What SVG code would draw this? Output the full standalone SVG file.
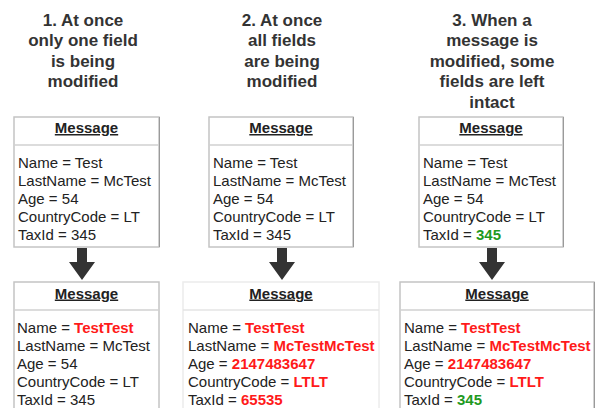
<svg xmlns="http://www.w3.org/2000/svg" width="597" height="408" viewBox="0 0 597 408">
<defs>
<style>
.ttl{font-family:"Liberation Sans",Arial,sans-serif;font-size:17px;font-weight:bold;fill:#333;text-anchor:middle}
.hdr{font-family:"Liberation Sans",Arial,sans-serif;font-size:15px;font-weight:bold;fill:#222;text-anchor:middle;text-decoration:underline}
.fld{font-family:"Liberation Sans",Arial,sans-serif;font-size:15px;fill:#222}
.red{fill:#ff1a1a;font-weight:bold}
.grn{fill:#1f9a1f;font-weight:bold}
.box{fill:#fff;stroke:#c4c4c4;stroke-width:1.5}
.faint{fill:#fff;stroke:#ececec;stroke-width:1.5}
.sep{stroke:#d0d0d0;stroke-width:1.5}
.sepf{stroke:#e4e4e4;stroke-width:1.5}
.edge{stroke:#9a9a9a;stroke-width:1}
.arr{fill:#333}
</style>
</defs>
<rect width="597" height="408" fill="#fff"/>
<g id="titles">
<text class="ttl" x="83" y="25.5">1. At once</text>
<text class="ttl" x="83" y="46">only one field</text>
<text class="ttl" x="83" y="66.5">is being</text>
<text class="ttl" x="83" y="87">modified</text>
<text class="ttl" x="282" y="25.5">2. At once</text>
<text class="ttl" x="282" y="46">all fields</text>
<text class="ttl" x="282" y="66.5">are being</text>
<text class="ttl" x="282" y="87">modified</text>
<text class="ttl" x="492" y="25.5">3. When a</text>
<text class="ttl" x="492" y="46">message is</text>
<text class="ttl" x="492" y="66.5">modified, some</text>
<text class="ttl" x="492" y="87">fields are left</text>
<text class="ttl" x="492" y="107.5">intact</text>
</g>
<g id="top1">
<rect class="box" x="14" y="117" width="145" height="130"/>
<line class="edge" x1="159.5" y1="117" x2="159.5" y2="247"/>
<line class="sep" x1="14" y1="145" x2="159" y2="145"/>
<text class="hdr" x="86.5" y="133">Message</text>
<text class="fld" x="18" y="168">Name = Test</text>
<text class="fld" x="18" y="186">LastName = McTest</text>
<text class="fld" x="18" y="204">Age = 54</text>
<text class="fld" x="18" y="222">CountryCode = LT</text>
<text class="fld" x="18" y="240">TaxId = 345</text>
</g>
<g id="top2">
<rect class="box" x="209" y="117" width="144" height="130"/>
<line class="edge" x1="353.5" y1="117" x2="353.5" y2="247"/>
<line class="sep" x1="209" y1="145" x2="353" y2="145"/>
<text class="hdr" x="281" y="133">Message</text>
<text class="fld" x="213" y="168">Name = Test</text>
<text class="fld" x="213" y="186">LastName = McTest</text>
<text class="fld" x="213" y="204">Age = 54</text>
<text class="fld" x="213" y="222">CountryCode = LT</text>
<text class="fld" x="213" y="240">TaxId = 345</text>
</g>
<g id="top3">
<rect class="box" x="419" y="117" width="144" height="130"/>
<line class="edge" x1="563.5" y1="117" x2="563.5" y2="247"/>
<line class="sep" x1="419" y1="145" x2="563" y2="145"/>
<text class="hdr" x="491" y="133">Message</text>
<text class="fld" x="423" y="168">Name = Test</text>
<text class="fld" x="423" y="186">LastName = McTest</text>
<text class="fld" x="423" y="204">Age = 54</text>
<text class="fld" x="423" y="222">CountryCode = LT</text>
<text class="fld" x="423" y="240">TaxId = <tspan class="grn">345</tspan></text>
</g>
<g id="connectors">
<path class="arr" d="M77 248 H87 V262 H95 L82 280 L69 262 H77 Z"/>
<path class="arr" d="M277 248 H287 V262 H295 L282 280 L269 262 H277 Z"/>
<path class="arr" d="M487 248 H497 V262 H505 L492 280 L479 262 H487 Z"/>
</g>
<g id="bottom1">
<rect class="box" x="14" y="282" width="145" height="140"/>
<line class="sep" x1="14" y1="310" x2="159" y2="310"/>
<text class="hdr" x="86.5" y="298.5">Message</text>
<text class="fld" x="17" y="332.5">Name = <tspan class="red">TestTest</tspan></text>
<text class="fld" x="17" y="350.5">LastName = McTest</text>
<text class="fld" x="17" y="368.5">Age = 54</text>
<text class="fld" x="17" y="386.5">CountryCode = LT</text>
<text class="fld" x="17" y="404.5">TaxId = 345</text>
</g>
<g id="bottom2">
<rect class="faint" x="183" y="282" width="196" height="140"/>
<line class="sepf" x1="183" y1="310" x2="379" y2="310"/>
<text class="hdr" x="281" y="298.5">Message</text>
<text class="fld" x="188" y="332.5">Name = <tspan class="red">TestTest</tspan></text>
<text class="fld" x="188" y="350.5">LastName = <tspan class="red">McTestMcTest</tspan></text>
<text class="fld" x="188" y="368.5">Age = <tspan class="red">2147483647</tspan></text>
<text class="fld" x="188" y="386.5">CountryCode = <tspan class="red">LTLT</tspan></text>
<text class="fld" x="188" y="404.5">TaxId = <tspan class="red">65535</tspan></text>
</g>
<g id="bottom3">
<rect class="box" x="400" y="282" width="194" height="140"/>
<line class="edge" x1="594.5" y1="282" x2="594.5" y2="408"/>
<line class="sep" x1="400" y1="310" x2="594" y2="310"/>
<text class="hdr" x="497" y="298.5">Message</text>
<text class="fld" x="404" y="332.5">Name = <tspan class="red">TestTest</tspan></text>
<text class="fld" x="404" y="350.5">LastName = <tspan class="red">McTestMcTest</tspan></text>
<text class="fld" x="404" y="368.5">Age = <tspan class="red">2147483647</tspan></text>
<text class="fld" x="404" y="386.5">CountryCode = <tspan class="red">LTLT</tspan></text>
<text class="fld" x="404" y="404.5">TaxId = <tspan class="grn">345</tspan></text>
</g>
</svg>
